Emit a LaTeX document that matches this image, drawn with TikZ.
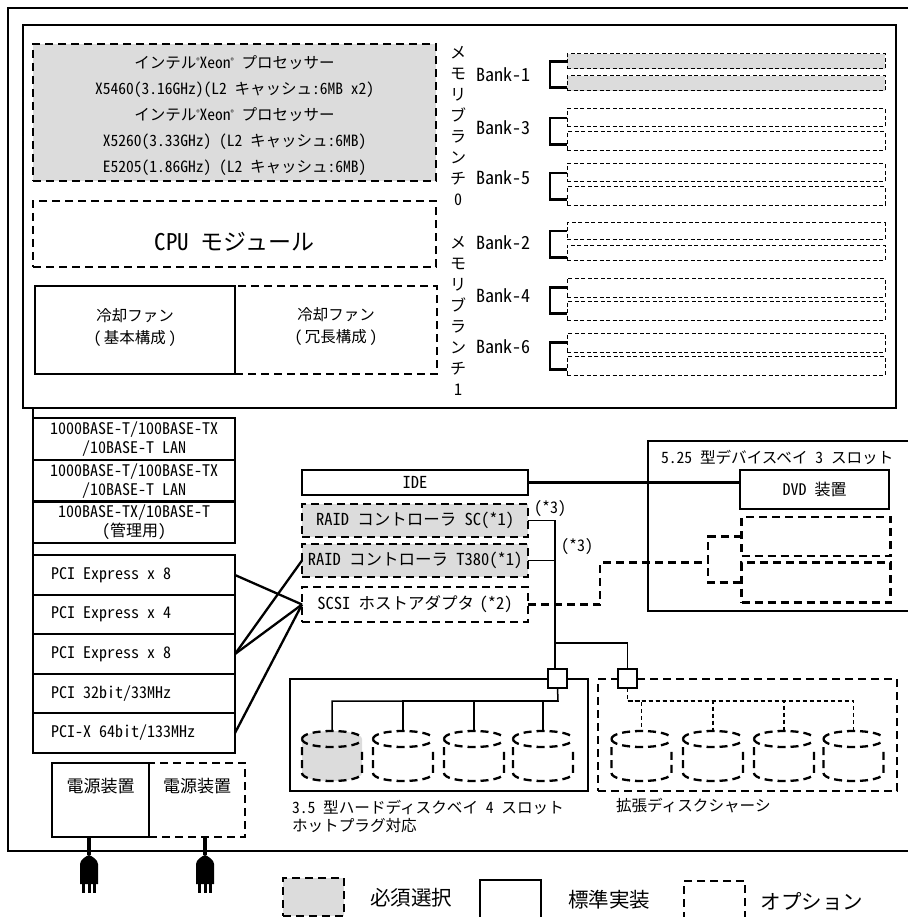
\documentclass[tikz,border=0pt]{standalone}
\usepackage{fontspec}
\setmainfont{Noto Sans CJK JP}[RawFeature=+hwid]
\usetikzlibrary{positioning}
\definecolor{reqgray}{HTML}{DCDCDC}
\newcommand{\regmark}{\raisebox{.55ex}{\fontsize{7}{7}\selectfont ®}}
\newcommand{\fsize}[1]{\fontsize{#1}{#1}\selectfont}
\newcommand{\hddunit}[3]{
  \begin{scope}[shift={(#2,756)}]
    \fill[#3] (-30,-17) -- (-30,17) .. controls (-30,22) and (-16,25) .. (0,25) .. controls (16,25) and (30,22) .. (30,17) -- (30,-17) .. controls (30,-22) and (16,-25) .. (0,-25) .. controls (-16,-25) and (-30,-22) .. (-30,-17) -- cycle;
    \draw[hddline] (-30,-17) .. controls (-30,-22) and (-16,-25) .. (0,-25) .. controls (16,-25) and (30,-22) .. (30,-17);
    \draw[hddline] (-30,-17) .. controls (-30,-12) and (-16,-9) .. (0,-9) .. controls (16,-9) and (30,-12) .. (30,-17);
    \draw[hddline] (-30,-9) -- (-30,17) .. controls (-30,22) and (-16,25) .. (0,25) .. controls (16,25) and (30,22) .. (30,17) -- (30,-9);
    \coordinate (#1) at (0,-25);
  \end{scope}
}
\tikzset{
  solidbox/.style={draw,line width=2.3pt,inner sep=0pt,outer sep=0pt,align=center},
  dashbox/.style={solidbox,dash pattern=on 8pt off 5pt},
  reqbox/.style={dashbox,fill=reqgray},
  dimm/.style={draw,line width=1pt,dash pattern=on 4pt off 2.5pt,inner sep=0pt,outer sep=0pt,minimum width=318pt},
  netbox/.style={solidbox,minimum width=202pt,minimum height=41.7pt,font=\fsize{16},execute at begin node={\baselineskip=19pt\spaceskip=8pt}},
  slotbox/.style={solidbox,minimum height=39.5pt,text width=166pt,inner xsep=18pt,align=left,font=\fsize{16},execute at begin node={\spaceskip=8pt}},
  ctrlbox/.style={minimum width=226pt,font=\fsize{16.5}},
  hub/.style={solidbox,fill=white,minimum size=19pt},
  caption/.style={inner sep=0pt,outer sep=0pt,font=\fsize{15.6}},
  banklabel/.style={inner sep=0pt,anchor=west,font=\fsize{18}},
  branchlabel/.style={inner sep=0pt,align=center,font=\fsize{16},execute at begin node={\baselineskip=21pt}},
  bus/.style={line width=1.5pt},
  dashline/.style={line width=2.3pt,dash pattern=on 8pt off 5pt},
  lightdash/.style={line width=1.2pt,dash pattern=on 4pt off 3pt},
  hddline/.style={line width=2.3pt,dash pattern=on 8pt off 5pt},
  plugicon/.pic={
    \fill (-9,29) -- (-9,9) .. controls (-9,5) and (-3,1) .. (0,0) .. controls (3,1) and (9,5) .. (9,9) -- (9,29) -- cycle;
    \fill (-7,29) rectangle (-4,38);
    \fill (-1.5,29) rectangle (1.5,38);
    \fill (4,29) rectangle (7,38);
  }
}
\begin{document}
\begin{tikzpicture}[x=1pt,y=-1pt,node distance=0pt,line width=2.3pt]
  \useasboundingbox (0,0) rectangle (908,917);
  \draw (908,8) -- (8,8) -- (8,851) -- (908,851);
  \node[solidbox,minimum width=873pt,minimum height=383pt](board) at (459.5,216.5) {};

  \node[reqbox,minimum width=403pt,minimum height=137pt,label={[yshift=-3pt,align=center,font=\fsize{15.5},execute at begin node={\baselineskip=26.2pt}]center:{インテル\regmark Xeon\regmark{} プロセッサー\\X5460(3.16GHz)(L2 キャッシュ:6MB x2)\\インテル\regmark Xeon\regmark{} プロセッサー\\X5260(3.33GHz) (L2 キャッシュ:6MB)\\E5205(1.86GHz) (L2 キャッシュ:6MB)}}](cpu) at (234.5,112.5) {};
  \node[dashbox,minimum width=403pt,minimum height=66pt,label={[yshift=-8pt,font=\fsize{23}]center:CPU モジュール}](cpumod) at (234.5,234) {};
  \node[dashbox,minimum width=202pt,minimum height=88pt,label={[yshift=3pt,align=center,font=\fsize{15.5},execute at begin node={\baselineskip=22pt}]center:{冷却ファン\\(\,冗長構成\,)}}](fanredun) at (336,330) {};
  \node[solidbox,minimum width=200pt,minimum height=88pt,left=0pt of fanredun,label={[yshift=2pt,align=center,font=\fsize{15.5},execute at begin node={\baselineskip=22pt}]center:{冷却ファン\\(\,基本構成\,)}}](fanbase) {};

  \node[branchlabel](brancha) at (458,126) {メ\\モ\\リ\\ブ\\ラ\\ン\\チ\\0};
  \node[branchlabel](branchb) at (458,315.5) {メ\\モ\\リ\\ブ\\ラ\\ン\\チ\\1};
  \node[banklabel](banka) at (475,75) {Bank-1};
  \node[banklabel](bankc) at (475,128) {Bank-3};
  \node[banklabel](banke) at (475,178) {Bank-5};
  \node[banklabel](bankb) at (475,243) {Bank-2};
  \node[banklabel](bankd) at (475,296) {Bank-4};
  \node[banklabel](bankf) at (475,347) {Bank-6};

  \node[dimm,fill=reqgray,minimum height=15pt](dimma) at (726,61.5) {};
  \node[dimm,fill=reqgray,minimum height=15pt,below=7pt of dimma](dimmb) {};
  \node[dimm,minimum height=18pt](dimmc) at (726,118) {};
  \node[dimm,minimum height=19pt,below=5pt of dimmc](dimmd) {};
  \node[dimm,minimum height=18pt](dimme) at (726,173) {};
  \node[dimm,minimum height=19pt,below=5pt of dimme](dimmf) {};
  \node[dimm,minimum height=16pt](dimmg) at (726,231) {};
  \node[dimm,minimum height=15pt,below=6pt of dimmg](dimmh) {};
  \node[dimm,minimum height=19pt](dimmi) at (726,287.5) {};
  \node[dimm,minimum height=19pt,below=4pt of dimmi](dimmj) {};
  \node[dimm,minimum height=19pt](dimmk) at (726,342.5) {};
  \node[dimm,minimum height=19pt,below=4pt of dimmk](dimml) {};
  \draw (dimma.west) -- ++(-17,0) |- ([yshift=-4pt]dimmb.west);
  \draw (dimmc.west) -- ++(-17,0) |- ([yshift=-3pt]dimmd.west);
  \draw (dimme.west) -- ++(-17,0) |- ([yshift=-3pt]dimmf.west);
  \draw (dimmg.west) -- ++(-17,0) |- ([yshift=-5pt]dimmh.west);
  \draw (dimmi.west) -- ++(-17,0) |- ([yshift=-3pt]dimmj.west);
  \draw (dimmk.west) -- ++(-17,0) |- ([yshift=-4pt]dimml.west);

  \node[netbox](lana) at (134,439) {1000BASE-T/100BASE-TX\\/10BASE-T LAN};
  \node[netbox,below= of lana](lanb) {1000BASE-T/100BASE-TX\\/10BASE-T LAN};
  \node[netbox,below= of lanb](lanc) {100BASE-TX/10BASE-T\\(管理用)};
  \node[slotbox,below=12pt of lanc](slota) {PCI Express x 8};
  \node[slotbox,below= of slota](slotb) {PCI Express x 4};
  \node[slotbox,below= of slotb](slotc) {PCI Express x 8};
  \node[slotbox,below= of slotc](slotd) {PCI 32bit/33MHz};
  \node[slotbox,below= of slotd](slote) {PCI-X 64bit/133MHz};
  \draw (board.south -| lana.west) -- (lana.north west);
  \draw (lanc.south west) -- (slota.north west);

  \node[solidbox,ctrlbox,minimum height=25pt](ide) at (415,482.5) {IDE};
  \node[reqbox,ctrlbox,minimum height=33pt](raidsc) at (415,520.5) {RAID コントローラ SC(*1)};
  \node[reqbox,ctrlbox,minimum height=33pt](raidt) at (415,560.5) {RAID コントローラ T380(*1)};
  \node[dashbox,ctrlbox,minimum height=35pt](scsi) at (415,604.5) {SCSI ホストアダプタ\,\,(*2)};
  \draw (slota.east) -- (scsi.west);
  \draw (slotc.east) -- (raidt.west);
  \draw (slotc.east) -- (scsi.west);
  \draw (slote.east) -- (scsi.west);

  \draw (908,441) -- (648,441) -- (648,611) -- (908,611);
  \node[caption,anchor=west](baylabel) at (661,457) {5.25 型デバイスベイ 3 スロット};
  \node[solidbox,minimum width=149pt,minimum height=39pt,font=\fsize{16}](dvd) at (814.5,489.5) {DVD 装置};
  \node[dashbox,minimum width=149pt,minimum height=39pt](baya) at (816,536.5) {};
  \node[dashbox,minimum width=149pt,minimum height=40pt](bayb) at (816,582.5) {};
  \draw (ide.east) -- (dvd.west |- ide.east);
  \coordinate (scsibend) at (600,562.5);
  \coordinate (bayjoin) at (708,562.5);
  \draw[dashline] (scsi.east) -| (scsibend) -- (bayjoin);
  \draw[dashline] (baya.west) -| (bayjoin) |- (bayb.west);

  \node[caption,font=\fsize{16}](notea) at (550,509) {(*3)};
  \node[caption,font=\fsize{16}](noteb) at (577,547) {(*3)};

  \node[solidbox,minimum width=298pt,minimum height=112pt](diskbay) at (439,735) {};
  \node[dashbox,minimum width=299pt,minimum height=112pt](extbay) at (747.5,735) {};
  \node[hub](hubint) at (557.5,678.5) {};
  \node[hub](hubext) at (627.5,678.5) {};
  \coordinate (busjoin) at (555,643);
  \coordinate (scjoin) at (555,520.5);
  \coordinate (busint) at (558,701);
  \coordinate (busext) at (627.5,701);
  \draw[bus] (raidsc.east) -- (scjoin) -- (scjoin |- hubint.north);
  \draw[bus] (raidt.east) -- (scjoin |- raidt.east);
  \draw[bus] (busjoin) -| (hubext.north);

  \hddunit{diska}{332}{reqgray}
  \hddunit{diskb}{403}{white}
  \hddunit{diskc}{474}{white}
  \hddunit{diskd}{543}{white}
  \hddunit{diske}{641.5}{white}
  \hddunit{diskf}{713}{white}
  \hddunit{diskg}{784}{white}
  \hddunit{diskh}{853.5}{white}
  \draw[bus] (hubint.south) -- (busint) -| (diska);
  \draw[bus] (busint) -| (diskb);
  \draw[bus] (busint) -| (diskc);
  \draw[bus] (busint) -| (diskd);
  \draw[lightdash] (hubext.south) -- (busext) -| (diske);
  \draw[lightdash] (busext) -| (diskf);
  \draw[lightdash] (busext) -| (diskg);
  \draw[lightdash] (busext) -| (diskh);
  \node[caption,anchor=north west,align=left,execute at begin node={\baselineskip=18pt}](bayhdd) at (292,800) {3.5 型ハードディスクベイ 4 スロット\\ホットプラグ対応};
  \node[caption,anchor=west](bayext) at (616,806) {拡張ディスクシャーシ};

  \node[dashbox,minimum width=96pt,minimum height=74pt,label={[label distance=-35pt,font=\fsize{17}]90:電源装置}](psub) at (197,800) {};
  \node[solidbox,minimum width=97pt,minimum height=74pt,left=0pt of psub,label={[label distance=-35pt,font=\fsize{17}]90:電源装置}](psua) {};
  \coordinate (pluga) at (89,855);
  \coordinate (plugb) at (205,855);
  \draw[line width=4pt] (pluga |- psua.south) -- (pluga);
  \draw[line width=4pt] (plugb |- psub.south) -- (plugb);
  \pic at (pluga) {plugicon};
  \pic at (plugb) {plugicon};

  \node[reqbox,minimum width=61pt,minimum height=38pt](legreq) at (313.5,897) {};
  \node[caption,font=\fsize{20.5}](legreqtext) at (411,898) {必須選択};
  \node[solidbox,minimum width=61pt,minimum height=42pt](legstd) at (510.5,901) {};
  \node[caption,font=\fsize{20.5}](legstdtext) at (609,900) {標準実装};
  \node[dashbox,minimum width=61pt,minimum height=42pt](legopt) at (714.5,902) {};
  \node[caption,font=\fsize{20.5}](legopttext) at (812,902) {オプション};
\end{tikzpicture}
\end{document}
